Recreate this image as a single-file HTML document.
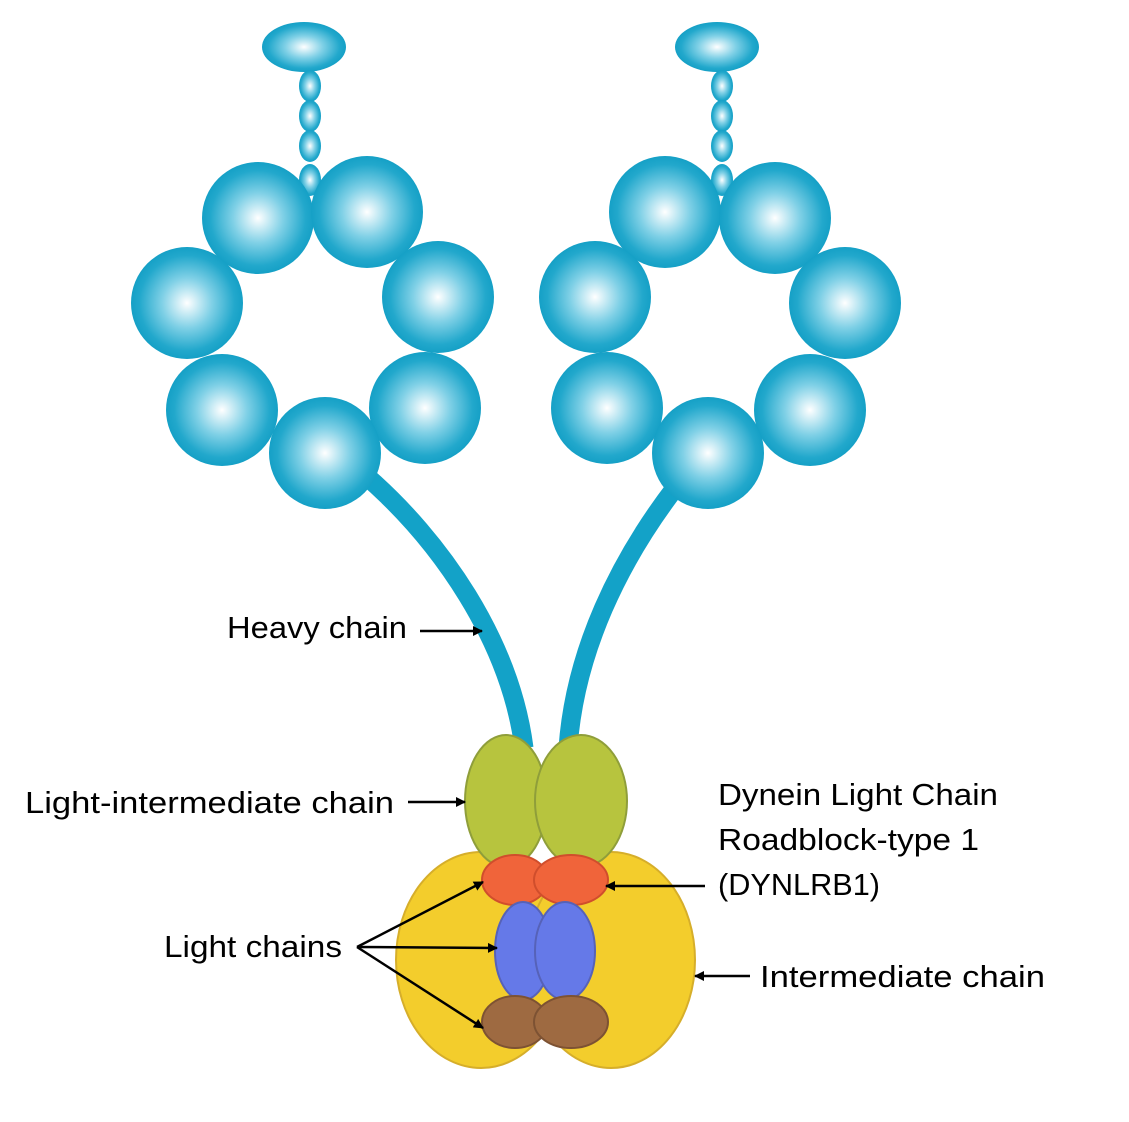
<!DOCTYPE html>
<html><head><meta charset="utf-8"><style>html,body{margin:0;padding:0;background:#fff}</style></head>
<body>
<svg width="1129" height="1117" viewBox="0 0 1129 1117" xmlns="http://www.w3.org/2000/svg" font-family="'Liberation Sans', sans-serif">
<defs>
<radialGradient id="b" cx="0.5" cy="0.5" r="0.5">
<stop offset="0" stop-color="#ffffff"/><stop offset="0.45" stop-color="#7fd0e6"/><stop offset="0.85" stop-color="#22a8cc"/><stop offset="1" stop-color="#15a0c6"/>
</radialGradient>
<marker id="a" markerWidth="10" markerHeight="10" refX="9" refY="5" orient="auto" markerUnits="userSpaceOnUse"><path d="M0,0 L10,5 L0,10 Z" fill="#000"/></marker>
</defs>
<!-- heavy chains -->
<path d="M365,475 C440,540 510,640 524,748" stroke="#13a2c8" stroke-width="19" fill="none"/>
<path d="M675,488 C620,560 575,650 568,748" stroke="#13a2c8" stroke-width="19" fill="none"/>
<!-- left head -->
<g fill="url(#b)">
<ellipse cx="304" cy="47" rx="42" ry="25"/>
<ellipse cx="310" cy="86" rx="11" ry="16"/><ellipse cx="310" cy="116" rx="11" ry="16"/><ellipse cx="310" cy="146" rx="11" ry="16"/><ellipse cx="310" cy="180" rx="11" ry="16"/>
<circle cx="258" cy="218" r="56"/><circle cx="367" cy="212" r="56"/>
<circle cx="187" cy="303" r="56"/><circle cx="438" cy="297" r="56"/>
<circle cx="222" cy="410" r="56"/><circle cx="425" cy="408" r="56"/>
<circle cx="325" cy="453" r="56"/>
<ellipse cx="717" cy="47" rx="42" ry="25"/>
<ellipse cx="722" cy="86" rx="11" ry="16"/><ellipse cx="722" cy="116" rx="11" ry="16"/><ellipse cx="722" cy="146" rx="11" ry="16"/><ellipse cx="722" cy="180" rx="11" ry="16"/>
<circle cx="665" cy="212" r="56"/><circle cx="775" cy="218" r="56"/>
<circle cx="595" cy="297" r="56"/><circle cx="845" cy="303" r="56"/>
<circle cx="607" cy="408" r="56"/><circle cx="810" cy="410" r="56"/>
<circle cx="708" cy="453" r="56"/>
</g>
<!-- base -->
<ellipse cx="481" cy="960" rx="85" ry="108" fill="#f3cd2c" stroke="#d6ae2a" stroke-width="2"/>
<ellipse cx="611" cy="960" rx="84" ry="108" fill="#f3cd2c" stroke="#d6ae2a" stroke-width="2"/>
<ellipse cx="506" cy="801" rx="41" ry="66" fill="#b7c43e" stroke="#8f9e3a" stroke-width="2"/>
<ellipse cx="581" cy="801" rx="46" ry="66" fill="#b7c43e" stroke="#8f9e3a" stroke-width="2"/>
<ellipse cx="515" cy="880" rx="33" ry="25" fill="#f0643a" stroke="#d04e2c" stroke-width="2"/>
<ellipse cx="571" cy="880" rx="37" ry="25" fill="#f0643a" stroke="#d04e2c" stroke-width="2"/>
<ellipse cx="523" cy="951" rx="28" ry="49" fill="#6579e8" stroke="#5662b8" stroke-width="2"/>
<ellipse cx="565" cy="951" rx="30" ry="49" fill="#6579e8" stroke="#5662b8" stroke-width="2"/>
<ellipse cx="515" cy="1022" rx="33" ry="26" fill="#9e6a41" stroke="#7d5233" stroke-width="2"/>
<ellipse cx="571" cy="1022" rx="37" ry="26" fill="#9e6a41" stroke="#7d5233" stroke-width="2"/>
<!-- arrows -->
<g stroke="#000" stroke-width="2.5" fill="none" marker-end="url(#a)">
<line x1="420" y1="631" x2="482" y2="631"/>
<line x1="408" y1="802" x2="465" y2="802"/>
<line x1="705" y1="886" x2="606" y2="886"/>
<line x1="357" y1="947" x2="483" y2="882"/>
<line x1="357" y1="947" x2="497" y2="948"/>
<line x1="357" y1="947" x2="483" y2="1028"/>
<line x1="750" y1="976" x2="695" y2="976"/>
</g>
<g font-size="31" fill="#000">
<text x="227" y="638" textLength="180" lengthAdjust="spacingAndGlyphs">Heavy chain</text>
<text x="25" y="813" textLength="369" lengthAdjust="spacingAndGlyphs">Light-intermediate chain</text>
<text x="164" y="957" textLength="178" lengthAdjust="spacingAndGlyphs">Light chains</text>
<text x="718" y="805" textLength="280" lengthAdjust="spacingAndGlyphs">Dynein Light Chain</text>
<text x="718" y="850" textLength="261" lengthAdjust="spacingAndGlyphs">Roadblock-type 1</text>
<text x="718" y="895" textLength="162" lengthAdjust="spacingAndGlyphs">(DYNLRB1)</text>
<text x="760" y="987" textLength="285" lengthAdjust="spacingAndGlyphs">Intermediate chain</text>
</g>
</svg>
</body></html>
